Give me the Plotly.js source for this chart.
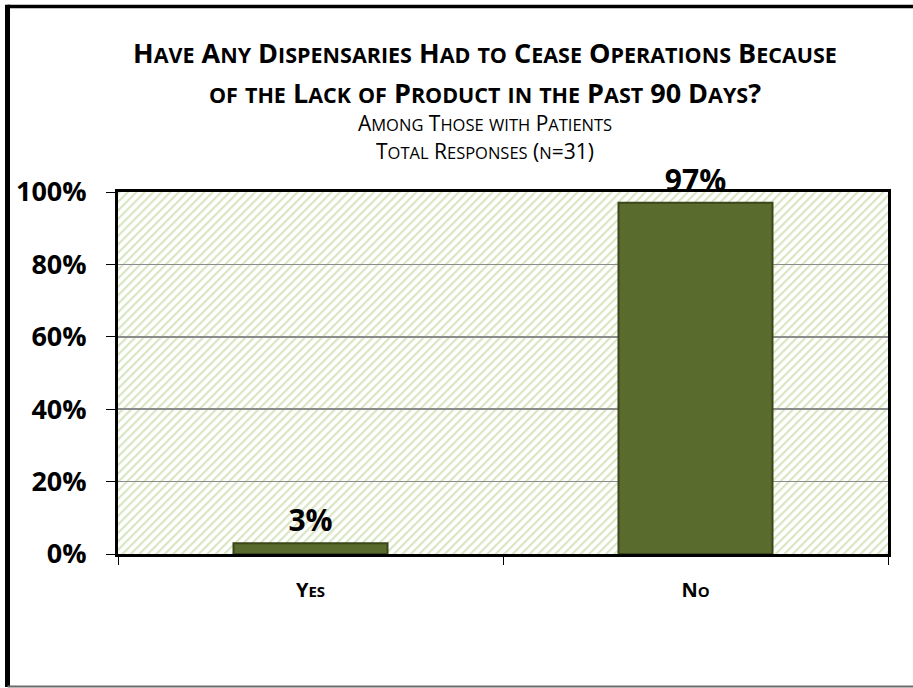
<!DOCTYPE html>
<html>
<head>
<meta charset="utf-8">
<script src="https://cdn.plot.ly/plotly-3.0.1.min.js"></script>
<style>
  html, body { margin: 0; padding: 0; background: #ffffff; }
  #chart { width: 913px; height: 688px; }
</style>
</head>
<body>
<div id="chart"></div>
<script>
// ---- Data ----
const categories = ["Yes", "No"];
const percentValues = [3, 97];
const titleLine1 = "Have Any Dispensaries Had to Cease Operations Because";
const titleLine2 = "of the Lack of Product in the Past 90 Days?";
const subtitleLine1 = "Among Those with Patients";
const subtitleLine2 = "Total Responses (n=31)";
const yTickValues = [0, 20, 40, 60, 80, 100];
const yTickLabels = ["0%", "20%", "40%", "60%", "80%", "100%"];

// ---- Helpers ----
const FONT = "'Open Sans', 'DejaVu Sans', sans-serif";

// Simulated small caps: capitals at big size, lowercase as smaller capitals
function smallCaps(text, big, small) {
  let out = "";
  let buf = "";
  let mode = null;
  const flush = () => {
    if (!buf) return;
    const size = mode === "lower" ? small : big;
    out += '<span style="font-size:' + size + 'px">' + buf + '</span>';
    buf = "";
  };
  for (const ch of text) {
    const isLower = ch !== ch.toUpperCase();
    const m = isLower ? "lower" : "upper";
    if (mode !== null && m !== mode) flush();
    mode = m;
    buf += ch.toUpperCase();
  }
  flush();
  return out;
}

// Background hatch pattern image (SVG data URI)
const hatchSvg =
  '<svg xmlns="http://www.w3.org/2000/svg" width="770" height="362">' +
  '<defs><pattern id="p" width="6" height="6" patternUnits="userSpaceOnUse" patternTransform="rotate(45)">' +
  '<rect width="6" height="6" fill="#ffffff"/>' +
  '<rect x="0" y="0" width="2.2" height="6" fill="#d9e5c3"/>' +
  '</pattern></defs>' +
  '<rect width="770" height="362" fill="url(#p)"/></svg>';
const hatchUri = "data:image/svg+xml;base64," + btoa(hatchSvg);

const barTrace = {
  type: "bar",
  x: categories.map(c => smallCaps(c, 20, 15)),
  y: percentValues,
  text: percentValues.map(v => v + "%"),
  textposition: "outside",
  textfont: { family: FONT, size: 30, color: "#000000", weight: 700 },
  cliponaxis: false,
  marker: {
    color: "#5a6b2e",
    line: { color: "#3b4719", width: 2 }
  },
  hoverinfo: "skip"
};

const annFont = (size, bold) => ({ family: FONT, size: size, color: "#000000", weight: bold ? 700 : 400 });
const titleX = 0.4766;

const layout = {
  width: 913,
  height: 688,
  margin: { l: 118, r: 25, t: 192, b: 134 },
  paper_bgcolor: "#ffffff",
  plot_bgcolor: "rgba(0,0,0,0)",
  showlegend: false,
  bargap: 0.6,
  font: { family: FONT, color: "#000000" },
  xaxis: {
    type: "category",
    showline: true,
    linecolor: "#000000",
    linewidth: 3,
    mirror: true,
    ticks: "outside",
    tickson: "boundaries",
    ticklen: 8,
    tickcolor: "#000000",
    tickwidth: 1,
    ticklabelstandoff: 16,
    tickfont: { family: FONT, size: 20, color: "#000000", weight: 700 },
    showgrid: false,
    zeroline: false
  },
  yaxis: {
    range: [0, 100],
    tickvals: yTickValues,
    ticktext: yTickLabels,
    showline: true,
    linecolor: "#000000",
    linewidth: 3,
    mirror: true,
    ticks: "outside",
    ticklen: 9,
    tickcolor: "#000000",
    tickwidth: 1,
    ticklabelstandoff: 14,
    tickfont: { family: FONT, size: 27, color: "#000000", weight: 700 },
    showgrid: true,
    gridcolor: "#8c8c8c",
    gridwidth: 1.6,
    zeroline: false
  },
  images: [{
    source: hatchUri,
    xref: "paper", yref: "paper",
    x: 0, y: 1, sizex: 1, sizey: 1,
    xanchor: "left", yanchor: "top",
    sizing: "stretch",
    layer: "below"
  }],
  annotations: [
    { text: smallCaps(titleLine1, 27, 21.5), x: titleX, y: 1.3867, xref: "paper", yref: "paper",
      xanchor: "center", yanchor: "middle", showarrow: false, font: annFont(27, true) },
    { text: smallCaps(titleLine2, 27, 21.5), x: titleX, y: 1.2762, xref: "paper", yref: "paper",
      xanchor: "center", yanchor: "middle", showarrow: false, font: annFont(27, true) },
    { text: smallCaps(subtitleLine1, 21, 16.5), x: titleX, y: 1.1906, xref: "paper", yref: "paper",
      xanchor: "center", yanchor: "middle", showarrow: false, font: annFont(21, false) },
    { text: smallCaps(subtitleLine2, 21, 16.5), x: titleX, y: 1.1133, xref: "paper", yref: "paper",
      xanchor: "center", yanchor: "middle", showarrow: false, font: annFont(21, false) }
  ],
  shapes: [
    // outer frame: top and left black, bottom gray
    { type: "line", xref: "paper", yref: "paper", x0: -0.1435, x1: 1.2, y0: 1.5124, y1: 1.5124,
      line: { color: "#000000", width: 3.5 } },
    { type: "line", xref: "paper", yref: "paper", x0: -0.1435, x1: -0.1435, y0: 1.517, y1: -0.3674,
      line: { color: "#000000", width: 5 } },
    { type: "line", xref: "paper", yref: "paper", x0: -0.1435, x1: 1.2, y0: -0.3660, y1: -0.3660,
      line: { color: "#6b6b6b", width: 2 } }
  ]
};

Plotly.newPlot("chart", [barTrace], layout, { displayModeBar: false, staticPlot: true });
</script>
</body>
</html>
